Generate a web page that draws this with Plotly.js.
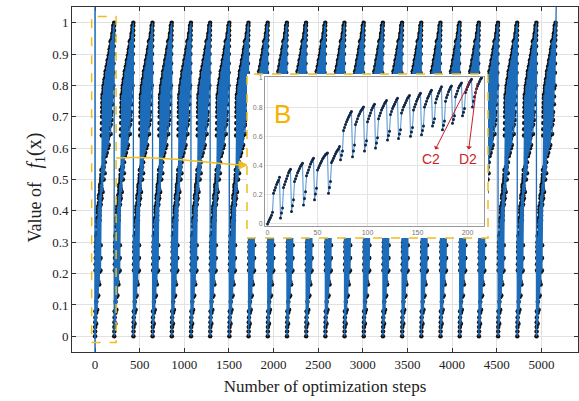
<!DOCTYPE html>
<html><head><meta charset="utf-8">
<script src="https://cdn.plot.ly/plotly-3.0.1.min.js"></script>
<style>html,body{margin:0;padding:0;background:#fff}#chart{width:579px;height:401px}</style>
</head><body><div id="chart"></div>
<script>
const cycleValues = [
 0,0.015,0.03,0.045,0.06,0.08,0.21,0.23,0.25,0.27,0.285,0.30,0.32,
 0.04,0.075,0.11,0.25,0.27,0.29,0.31,0.33,0.35,0.365,0.375,
 0.085,0.125,0.165,0.29,0.31,0.33,0.35,0.365,0.38,0.395,0.405,0.415,
 0.13,0.175,0.22,0.33,0.35,0.37,0.39,0.41,0.425,0.44,0.45,
 0.165,0.205,0.245,0.37,0.385,0.40,0.415,0.43,0.445,0.455,0.465,0.475,0.48,0.485,
 0.21,0.25,0.29,0.42,0.435,0.45,0.465,0.48,0.495,0.505,0.515,0.53,
 0.44,0.47,0.50,0.64,0.66,0.68,0.70,0.715,0.73,0.745,0.76,0.77,
 0.46,0.50,0.54,0.68,0.70,0.72,0.74,0.755,0.77,0.78,0.79,0.80,
 0.50,0.54,0.57,0.70,0.72,0.74,0.76,0.78,0.795,0.81,0.82,
 0.52,0.555,0.59,0.72,0.74,0.76,0.78,0.795,0.81,0.825,0.835,0.845,
 0.575,0.605,0.635,0.75,0.77,0.79,0.805,0.82,0.835,0.85,0.86,
 0.585,0.615,0.645,0.76,0.78,0.80,0.815,0.83,0.845,0.86,0.87,0.88,
 0.60,0.63,0.66,0.78,0.80,0.82,0.84,0.855,0.87,0.885,0.895,
 0.61,0.64,0.67,0.80,0.82,0.84,0.86,0.875,0.89,0.905,0.915,
 0.67,0.695,0.72,0.83,0.855,0.875,0.895,0.91,0.925,0.94,
 0.645,0.675,0.705,0.84,0.865,0.885,0.905,0.92,0.935,0.945,
 0.69,0.715,0.74,0.87,0.89,0.91,0.93,0.945,0.955,0.965,
 0.74,0.765,0.79,0.90,0.92,0.94,0.955,0.97,0.98,0.99,
 0.80,0.84,0.87,0.90,0.925,0.945,0.96,0.975,0.99,1.0
];
// Steps at which each of the 24 cycles starts (at 0)
const cycleStarts = [0,215,430,645,860,1075,1290,1505,1720,1935,2150,2365,
                     2580,2795,3010,3225,3440,3655,3870,4085,4300,4515,4730,4945];
const finalStep = 5185, finalValue = 1.35;
const startStep = 0;
const xTicks = [0,500,1000,1500,2000,2500,3000,3500,4000,4500,5000];
const yTicks = [0,0.1,0.2,0.3,0.4,0.5,0.6,0.7,0.8,0.9,1];
const yTickText = ['0','0.1','0.2','0.3','0.4','0.5','0.6','0.7','0.8','0.9','1'];
const insetXTicks = [0,50,100,150,200];
const insetYTicks = [0,0.2,0.4,0.6,0.8,1];
const insetYTickText = ['0','0.2','0.4','0.6','0.8','1'];

const stepX = [], stepY = [];
cycleStarts.forEach(s => cycleValues.forEach((v,i) => { stepX.push(s+i); stepY.push(v); }));
stepX.push(finalStep); stepY.push(finalValue);
const insetX = cycleValues.map((v,i) => i);

const blue = 'rgb(28,108,186)';
const yellow = 'rgb(240,188,30)';
const red = 'rgb(205,30,40)';
const serif = 'Liberation Serif, Times New Roman, serif';

const traces = [
  {x: stepX, y: stepY, type: 'scatter', mode: 'markers', xaxis: 'x', yaxis: 'y',
   marker: {color: '#111', size: 4.5}, hoverinfo: 'skip', showlegend: false},
  {x: stepX, y: stepY, type: 'scatter', mode: 'lines', xaxis: 'x', yaxis: 'y',
   line: {color: blue, width: 1.3}, hoverinfo: 'skip', showlegend: false},
  {x: [0], y: [0], type: 'scatter', mode: 'markers', xaxis: 'x2', yaxis: 'y2',
   marker: {size: 1, color: 'rgba(0,0,0,0)'}, hoverinfo: 'skip', showlegend: false},
  {x: insetX, y: cycleValues, type: 'scatter', mode: 'lines+markers', xaxis: 'x3', yaxis: 'y3',
   line: {color: 'rgb(80,145,205)', width: 1}, marker: {color: 'rgb(18,36,66)', size: 3},
   hoverinfo: 'skip', showlegend: false}
];

const px = v => (v - 72) / 506;
const py = v => (352 - v) / 345;

const layout = {
  width: 579, height: 401,
  margin: {l: 72, r: 1, t: 7, b: 49},
  paper_bgcolor: '#fff', plot_bgcolor: '#fff',
  showlegend: false,
  xaxis: {
    domain: [0,1], range: [-258, 5410], tickvals: xTicks, ticks: 'inside', ticklen: 4,
    tickcolor: '#333', mirror: 'ticks', showline: true, linecolor: '#333', linewidth: 1,
    showgrid: true, gridcolor: '#e2e2e2', zeroline: false,
    tickfont: {family: serif, size: 13, color: '#222'},
    title: {text: 'Number of optimization steps', font: {family: serif, size: 17, color: '#222'}, standoff: 9}
  },
  yaxis: {
    domain: [0,1], range: [-0.05, 1.05], tickvals: yTicks, ticktext: yTickText, ticks: 'inside', ticklen: 4,
    tickcolor: '#333', mirror: 'ticks', showline: true, linecolor: '#333', linewidth: 1,
    showgrid: true, gridcolor: '#e2e2e2', zeroline: false,
    tickfont: {family: serif, size: 13, color: '#222'}
  },
  xaxis2: {domain: [px(247), px(488)], anchor: 'y2', range: [-1,1], visible: false, fixedrange: true},
  yaxis2: {domain: [py(238), py(74)], anchor: 'x2', range: [-1,1], visible: false, fixedrange: true},
  xaxis3: {domain: [px(265), px(484)], anchor: 'y3', range: [-2.5, 216.5], tickvals: insetXTicks,
           showgrid: true, gridcolor: '#e4e4e4', zeroline: false, ticks: '', showline: true, mirror: true,
           linecolor: '#999', linewidth: 1, tickfont: {family: 'Liberation Sans, Arial', size: 7, color: '#777'}},
  yaxis3: {domain: [py(226), py(77)], anchor: 'x3', range: [-0.014, 1.006], tickvals: insetYTicks, ticktext: insetYTickText,
           showgrid: true, gridcolor: '#e4e4e4', zeroline: false, ticks: '', showline: true, mirror: true,
           linecolor: '#999', linewidth: 1, tickfont: {family: 'Liberation Sans, Arial', size: 7, color: '#777'}},
  shapes: [
    {type: 'line', xref: 'x', yref: 'paper', x0: startStep, x1: startStep, y0: 0, y1: 1,
     line: {color: blue, width: 1.5}, layer: 'above'},
    {type: 'rect', xref: 'x', yref: 'y', x0: -38, x1: 236, y0: -0.02, y1: 1.02,
     line: {color: yellow, width: 1.5, dash: 'dash'}, fillcolor: 'rgba(0,0,0,0)', layer: 'above'},
    {type: 'rect', xref: 'paper', yref: 'paper', x0: px(247), x1: px(488), y0: py(238), y1: py(74),
     line: {color: yellow, width: 1.5, dash: 'dash'}, fillcolor: 'rgba(0,0,0,0)', layer: 'above'},
    {type: 'path', xref: 'paper', yref: 'paper',
     path: `M ${px(116)} ${py(158)} C ${px(160)} ${py(156)}, ${px(200)} ${py(162)}, ${px(240)} ${py(165)}`,
     line: {color: yellow, width: 1.5}, layer: 'above'},
    {type: 'path', xref: 'paper', yref: 'paper',
     path: `M ${px(247)} ${py(165)} L ${px(239)} ${py(161)} L ${px(239)} ${py(169)} Z`,
     line: {color: yellow, width: 1}, fillcolor: yellow, layer: 'above'}
  ],
  annotations: [
    {xref: 'paper', yref: 'paper', x: px(21), y: py(188),
     text: 'Value of&nbsp;&nbsp;&nbsp;<span style="font-size:20px"><i>f</i><sub>1</sub>(x)</span>',
     textangle: -90, showarrow: false, font: {family: serif, size: 18, color: '#222'}},
    {xref: 'x3', yref: 'y3', x: 15, y: 0.75, text: 'B', showarrow: false,
     font: {family: 'Liberation Sans, Arial', size: 26, color: 'rgb(245,178,0)'}},
    {xref: 'x3', yref: 'y3', x: 202.6, y: 0.98, axref: 'x3', ayref: 'y3', ax: 163, ay: 0.445,
     text: 'C2', showarrow: true, arrowside: 'start', arrowhead: 2, arrowsize: 0.8, arrowwidth: 1,
     arrowcolor: red, font: {family: 'Liberation Sans, Arial', size: 14, color: red}},
    {xref: 'x3', yref: 'y3', x: 209.6, y: 0.965, axref: 'x3', ayref: 'y3', ax: 200, ay: 0.445,
     text: 'D2', showarrow: true, arrowside: 'start', arrowhead: 2, arrowsize: 0.8, arrowwidth: 1,
     arrowcolor: red, font: {family: 'Liberation Sans, Arial', size: 14, color: red}}
  ]
};

Plotly.newPlot('chart', traces, layout, {staticPlot: true, displayModeBar: false});
</script>
</body></html>
